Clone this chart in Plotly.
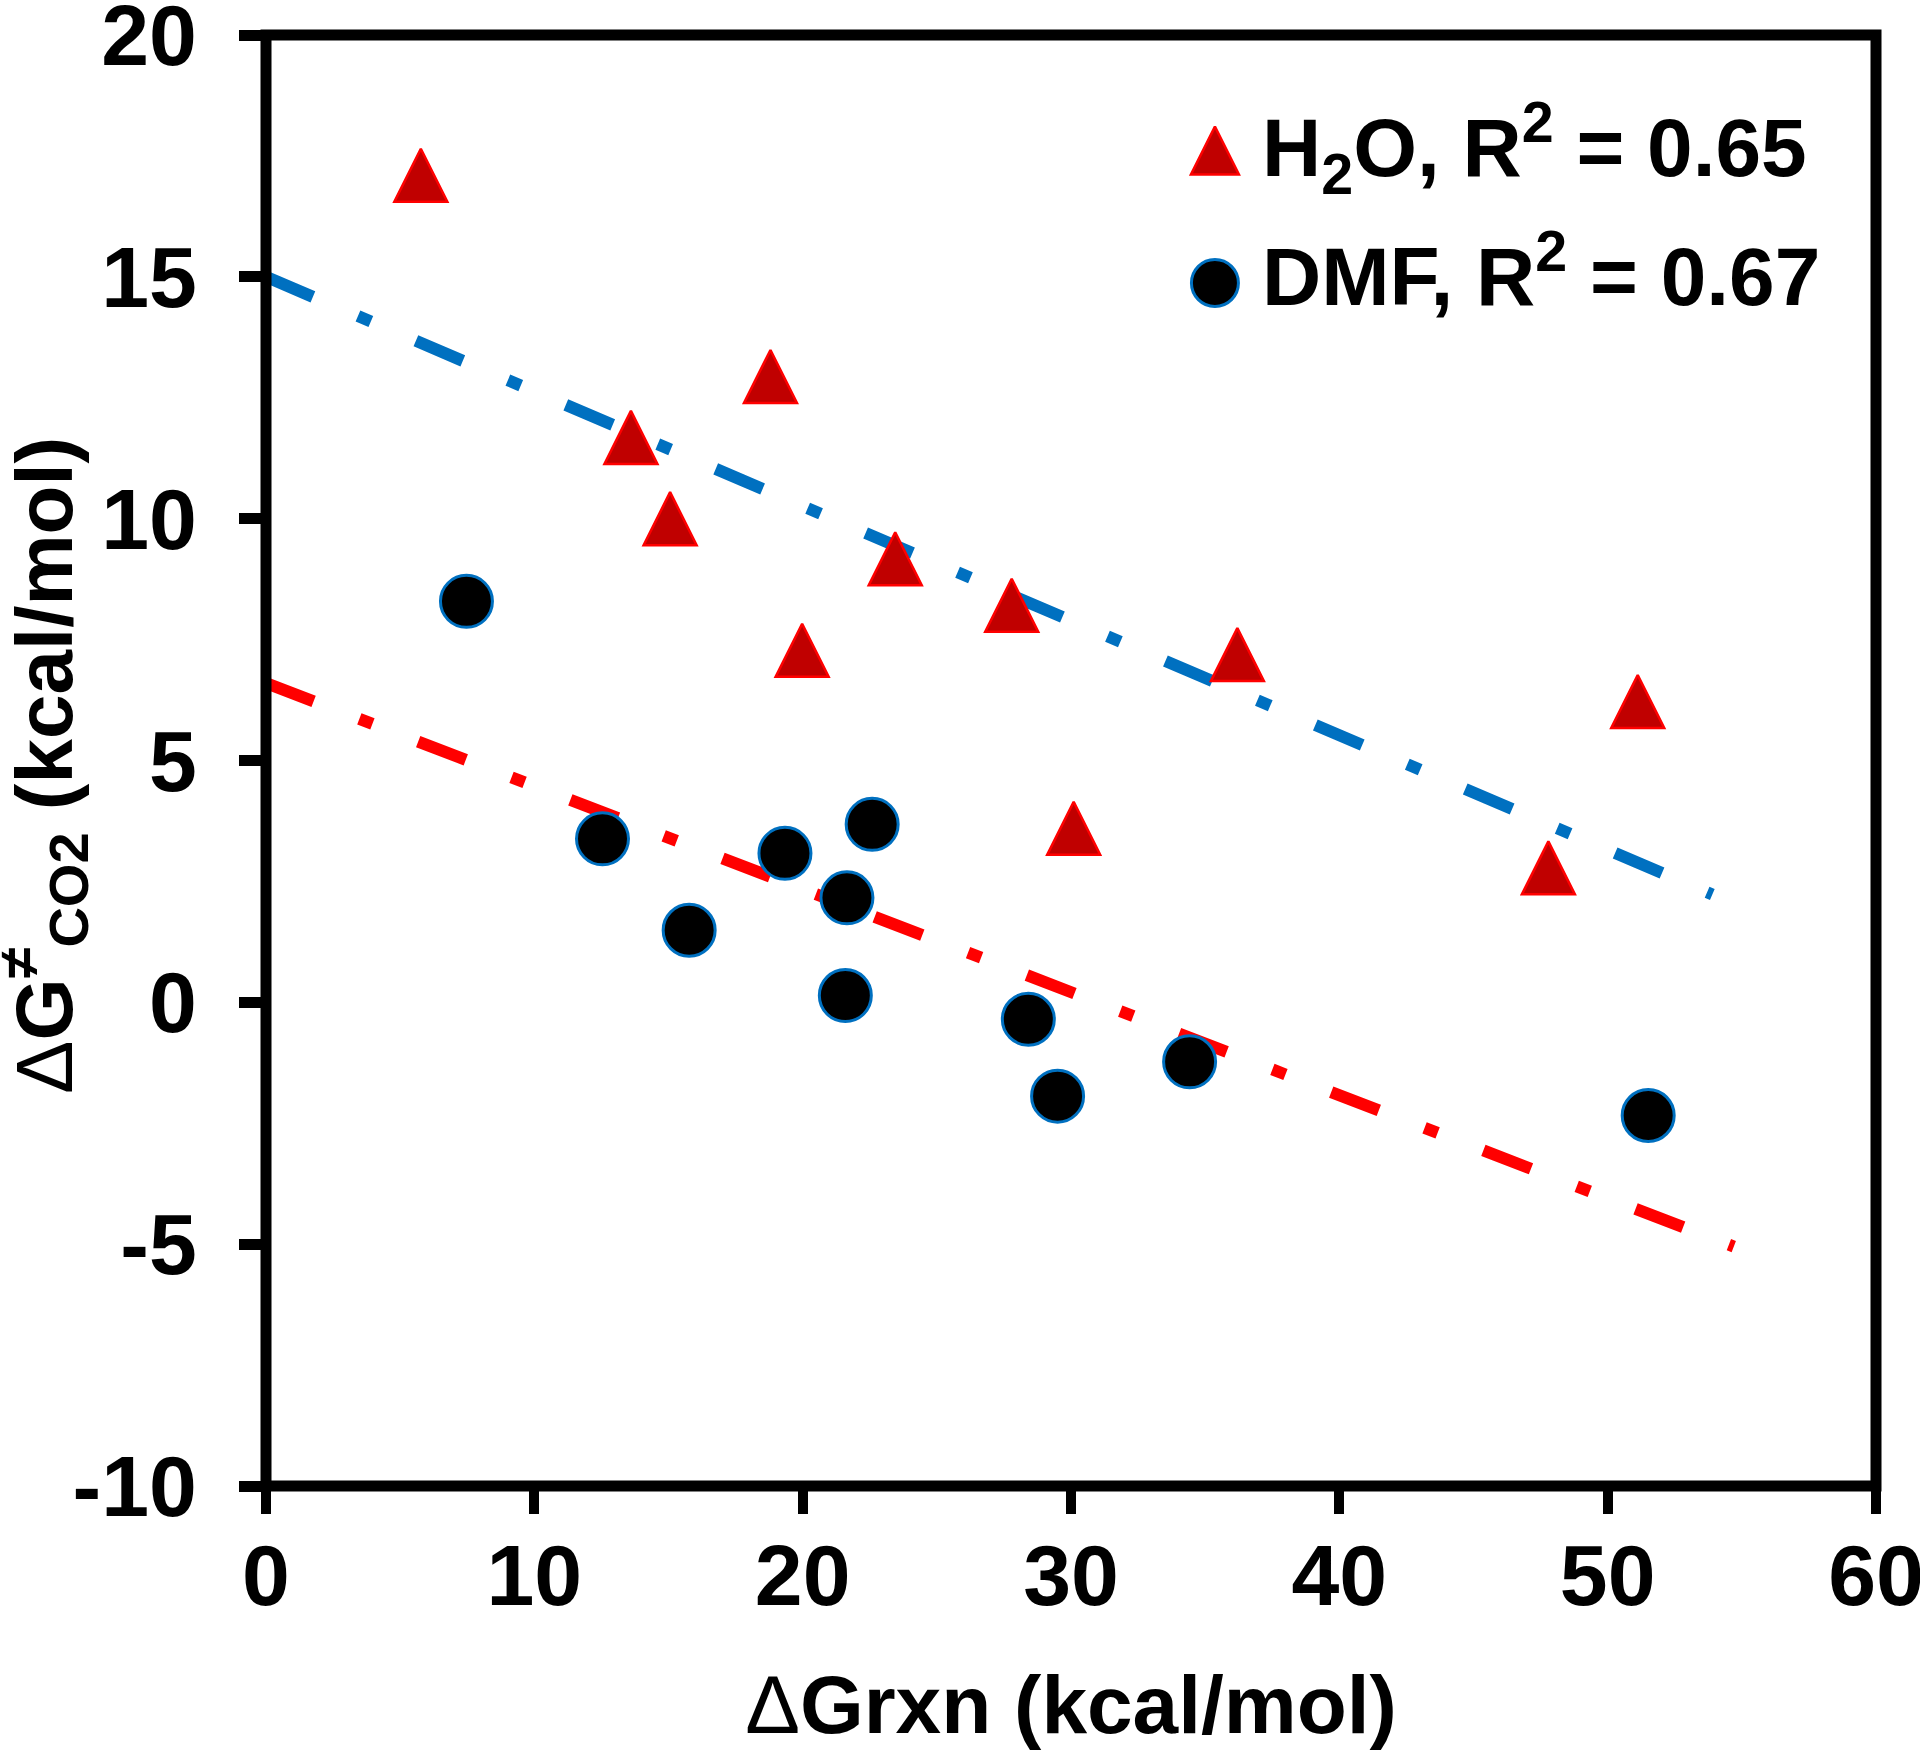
import plotly.graph_objects as go

# ---------------- data ----------------
h2o_x = [5.77, 13.6, 15.06, 18.8, 19.98, 23.45, 27.79, 30.1, 36.2, 47.79, 51.12]
h2o_y = [17.1, 11.68, 10.0, 12.94, 7.28, 9.17, 8.21, 3.6, 7.19, 2.78, 6.22]
dmf_x = [7.47, 12.54, 15.77, 19.34, 21.65, 22.59, 21.59, 28.41, 29.5, 34.42, 51.51]
dmf_y = [8.29, 3.38, 1.49, 3.08, 2.16, 3.68, 0.14, -0.35, -1.94, -1.23, -2.34]

h2o_fit_x = [0, 53.9]
h2o_fit_y = [15.0, 2.23]
dmf_fit_x = [0, 54.7]
dmf_fit_y = [6.6, -5.05]

x_tick_vals = [0, 10, 20, 30, 40, 50, 60]
x_tick_text = ["0", "10", "20", "30", "40", "50", "60"]
y_tick_vals = [-10, -5, 0, 5, 10, 15, 20]
y_tick_text = ["-10", "-5", "0", "5", "10", "15", "20"]

series_labels = ["H<sub>2</sub>O, R<sup>2</sup> = 0.65", "DMF, R<sup>2</sup> = 0.67"]
x_title = "<span style='font-weight:normal'>Δ</span>Grxn (kcal/mol)"
y_title = "<span style='font-weight:normal'>Δ</span>G<sup>≠</sup><sub>CO2</sub> (kcal/mol)"

# ---------------- style ----------------
FONT = "Liberation Sans, Arial, sans-serif"
RED_FILL = "#C00000"
RED_EDGE = "#FF0000"
BLUE = "#0070C0"
DASH = "51px,49px,14px,49px"
LINE_W = 12
TRI = 53
CIR = 52
LEG_TRI = 48
LEG_CIR = 47
LEG_KEY_X = 0.5894
LEG_ROW_Y = [0.9204, 0.8291]
LEG_TEXT_X = 0.6174
LEG_TEXT_Y = [0.9221, 0.8380]


def tri_marker(size):
    return dict(symbol="arrow-down", angle=180, standoff=size / 2, size=size,
                color=RED_FILL, line=dict(color=RED_EDGE, width=2.5))


def dot_marker(size):
    return dict(symbol="circle", size=size, color="black",
                line=dict(color=BLUE, width=3))


fig = go.Figure()
fig.add_trace(go.Scatter(x=h2o_fit_x, y=h2o_fit_y, mode="lines",
                         line=dict(color=BLUE, width=LINE_W, dash=DASH),
                         hoverinfo="skip", showlegend=False))
fig.add_trace(go.Scatter(x=dmf_fit_x, y=dmf_fit_y, mode="lines",
                         line=dict(color=RED_EDGE, width=LINE_W, dash=DASH),
                         hoverinfo="skip", showlegend=False))
fig.add_trace(go.Scatter(x=h2o_x, y=h2o_y, mode="markers", name="H2O",
                         marker=tri_marker(TRI), showlegend=False))
fig.add_trace(go.Scatter(x=dmf_x, y=dmf_y, mode="markers", name="DMF",
                         marker=dot_marker(CIR), showlegend=False))

# legend keys on an overlay (0..1) scale
fig.add_trace(go.Scatter(x=[LEG_KEY_X], y=[LEG_ROW_Y[0]], xaxis="x2", yaxis="y2",
                         mode="markers", marker=tri_marker(LEG_TRI),
                         hoverinfo="skip", showlegend=False))
fig.add_trace(go.Scatter(x=[LEG_KEY_X], y=[LEG_ROW_Y[1]], xaxis="x2", yaxis="y2",
                         mode="markers", marker=dot_marker(LEG_CIR),
                         hoverinfo="skip", showlegend=False))

for label, ty in zip(series_labels, LEG_TEXT_Y):
    fig.add_annotation(x=LEG_TEXT_X, y=ty, xref="paper", yref="paper",
                       text=label, showarrow=False, xanchor="left", yanchor="middle",
                       font=dict(family=FONT, size=82, color="black", weight="bold"))

# y-axis title (placed as a rotated annotation for exact positioning)
fig.add_annotation(x=-0.1379, y=0.4969, xref="paper", yref="paper",
                   text=y_title, textangle=-90, showarrow=False,
                   xanchor="center", yanchor="middle",
                   font=dict(family=FONT, size=80, color="black", weight="bold"))

axis_common = dict(showgrid=False, zeroline=False, showline=False,
                   ticks="outside", tickcolor="black", automargin=False,
                   fixedrange=True, ticklabeloverflow="allow")

fig.update_layout(
    template="none",
    width=1920, height=1750,
    margin=dict(l=266, r=44, t=35, b=264),
    paper_bgcolor="white", plot_bgcolor="white",
    showlegend=False,
    xaxis=dict(range=[0, 60], tickmode="array", tickvals=x_tick_vals, ticktext=x_tick_text,
               ticklen=27, tickwidth=10, ticklabelstandoff=-12,
               tickfont=dict(family=FONT, size=86, color="black", weight="bold"),
               title=dict(text=x_title, standoff=87,
                          font=dict(family=FONT, size=82, color="black", weight="bold")),
               **axis_common),
    yaxis=dict(range=[-10, 20], tickmode="array", tickvals=y_tick_vals, ticktext=y_tick_text,
               ticklen=26, tickwidth=11, ticklabelstandoff=25,
               tickfont=dict(family=FONT, size=86, color="black", weight="bold"),
               **axis_common),
    xaxis2=dict(overlaying="x", range=[0, 1], visible=False, fixedrange=True),
    yaxis2=dict(overlaying="y", range=[0, 1], visible=False, fixedrange=True),
    shapes=[dict(type="rect", xref="paper", yref="paper", x0=0, y0=0, x1=1, y1=1,
                 line=dict(color="black", width=11), layer="above")],
)

fig.write_html("out.html",
               config={"displayModeBar": False},
               post_script="document.body.style.margin='0px';document.body.style.overflow='hidden';")
